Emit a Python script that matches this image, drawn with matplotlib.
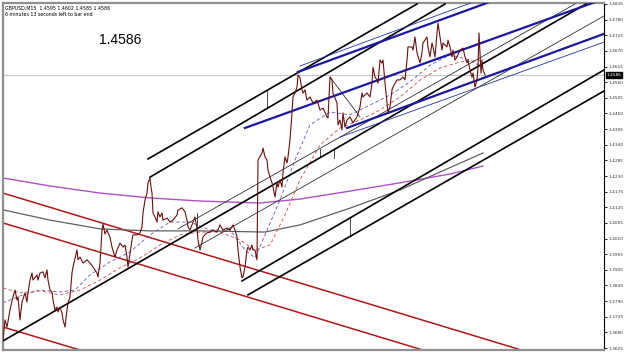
import matplotlib
matplotlib.use("Agg")
import matplotlib.pyplot as plt

# Precio GBPUSD M15 (barra, precio)
bars = [3, 5, 7, 10, 13, 15, 17, 18, 20, 22, 25, 27, 28, 30, 32, 33, 37, 38, 40, 43,
        45, 47, 48, 50, 52, 53, 55, 57, 58, 60, 62, 63, 65, 67, 68, 70, 72, 73, 77, 78,
        80, 83, 87, 90, 93, 97, 98, 100, 102, 103, 105, 107, 110, 112, 115, 117, 120, 123, 125, 127,
        128, 132, 133, 137, 140, 142, 143, 145, 147, 148, 150, 151, 152, 153, 155, 157, 158, 160, 162, 163,
        167, 170, 173, 177, 178, 182, 185, 187, 188, 190, 193, 195, 197, 198, 200, 202, 203, 207, 210, 213,
        217, 220, 223, 227, 230, 233, 235, 237, 238, 240, 242, 243, 245, 247, 248, 250, 252, 253, 255, 257,
        258, 262, 263, 265, 267, 268, 270, 272, 273, 275, 277, 278, 280, 282, 283, 285, 287, 288, 290, 292,
        293, 295, 297, 298, 300, 302, 303, 305, 307, 310, 313, 317, 320, 323, 327, 328, 330, 332, 333, 337,
        338, 340, 342, 343, 345, 347, 350, 353, 357, 360, 362, 363, 367, 370, 372, 373, 375, 377, 378, 380,
        382, 383, 385, 387, 388, 390, 392, 393, 397, 400, 403, 405, 407, 408, 412, 413, 415, 417, 420, 422,
        423, 427, 428, 430, 432, 433, 435, 437, 438, 440, 442, 443, 447, 448, 450, 452, 453, 455, 457, 460,
        463, 465, 467, 468, 470, 472, 473, 475, 477, 478, 479, 481, 482, 483, 485]
precio = [1.3653, 1.3724, 1.3699, 1.3759, 1.3805, 1.3829, 1.3794, 1.3805, 1.3724, 1.3787,
          1.3819, 1.3787, 1.3819, 1.3864, 1.3889, 1.3864, 1.3882, 1.3864, 1.3889, 1.3893,
          1.3872, 1.3900, 1.3864, 1.3829, 1.3822, 1.3794, 1.3759, 1.3769, 1.3752, 1.3769,
          1.3748, 1.3724, 1.3699, 1.3759, 1.3783, 1.3805, 1.3889, 1.3910, 1.3970, 1.3935,
          1.3945, 1.3924, 1.3935, 1.3924, 1.3910, 1.3889, 1.3875, 1.3924, 1.4040, 1.4061,
          1.4026, 1.4040, 1.4015, 1.3980, 1.3945, 1.3970, 1.3994, 1.3980, 1.3987, 1.3945,
          1.3910, 1.4005, 1.4023, 1.4023, 1.4030, 1.4051, 1.4100, 1.4146, 1.4170, 1.4206,
          1.4223, 1.4191, 1.4170, 1.4100, 1.4086, 1.4068, 1.4104, 1.4086, 1.4100, 1.4075,
          1.4082, 1.4068, 1.4075, 1.4093, 1.4110, 1.4118, 1.4104, 1.4075, 1.4051, 1.4040,
          1.4068, 1.4086, 1.4047, 1.4005, 1.3970, 1.3998, 1.4016, 1.4030, 1.4033, 1.4040,
          1.4033, 1.4058, 1.4040, 1.4047, 1.4040, 1.4058, 1.4040, 1.4016, 1.3970, 1.3910,
          1.3872, 1.3875, 1.3910, 1.3970, 1.3980, 1.3970, 1.3987, 1.3970, 1.3970, 1.3935,
          1.4286, 1.4311, 1.4328, 1.4297, 1.4286, 1.4251, 1.4227, 1.4206, 1.4191, 1.4156,
          1.4206, 1.4191, 1.4216, 1.4191, 1.4241, 1.4297, 1.4276, 1.4297, 1.4357, 1.4452,
          1.4508, 1.4522, 1.4543, 1.4585, 1.4575, 1.4533, 1.4522, 1.4533, 1.4497, 1.4508,
          1.4487, 1.4497, 1.4462, 1.4469, 1.4438, 1.4434, 1.4578, 1.4568, 1.4522, 1.4487,
          1.4410, 1.4427, 1.4392, 1.4452, 1.4402, 1.4427, 1.4438, 1.4417, 1.4438, 1.4473,
          1.4522, 1.4508, 1.4522, 1.4508, 1.4557, 1.4613, 1.4578, 1.4568, 1.4557, 1.4638,
          1.4627, 1.4638, 1.4557, 1.4487, 1.4452, 1.4473, 1.4533, 1.4543, 1.4568, 1.4568,
          1.4578, 1.4568, 1.4638, 1.4684, 1.4684, 1.4673, 1.4719, 1.4663, 1.4628, 1.4663,
          1.4698, 1.4719, 1.4684, 1.4649, 1.4698, 1.4684, 1.4649, 1.4733, 1.4768, 1.4719,
          1.4673, 1.4698, 1.4684, 1.4708, 1.4684, 1.4649, 1.4673, 1.4638, 1.4649, 1.4673,
          1.4680, 1.4649, 1.4628, 1.4638, 1.4603, 1.4578, 1.4592, 1.4543, 1.4568, 1.4614,
          1.4733, 1.4592, 1.4638, 1.4603, 1.4586]

# Medias moviles
ma_purpura_x = [3, 50, 100, 150, 200, 260, 300, 350, 400, 450, 483]
ma_purpura = [1.4223, 1.4195, 1.4170, 1.4153, 1.4142, 1.4135, 1.4149, 1.4177, 1.4206, 1.4237, 1.4265]
ma_gris_x = [3, 50, 100, 150, 200, 265, 300, 350, 400, 440, 483]
ma_gris = [1.4111, 1.4075, 1.4044, 1.4037, 1.4037, 1.4033, 1.4058, 1.4117, 1.4181, 1.4244, 1.4311]
ma_rapida_x = [3, 20, 40, 60, 75, 90, 110, 130, 150, 170, 190, 210, 230, 245, 255, 265, 280, 295,
               310, 330, 350, 370, 390, 410, 430, 450, 470, 483]
ma_rapida = [1.3784, 1.3808, 1.3829, 1.3822, 1.3829, 1.3882, 1.3928, 1.3963, 1.4023, 1.4068,
             1.4068, 1.4040, 1.4040, 1.3970, 1.3942, 1.4023, 1.4146, 1.4286, 1.4410, 1.4455,
             1.4445, 1.4480, 1.4515, 1.4561, 1.4620, 1.4656, 1.4638, 1.4610]
ma_lenta_x = [3, 20, 40, 60, 80, 100, 120, 140, 160, 180, 200, 220, 240, 255, 270, 285, 300,
              320, 340, 360, 380, 400, 420, 440, 460, 483]
ma_lenta = [1.3836, 1.3819, 1.3826, 1.3812, 1.3829, 1.3864, 1.3907, 1.3942, 1.3987, 1.4023,
            1.4033, 1.4033, 1.4005, 1.3970, 1.3987, 1.4093, 1.4216, 1.4339, 1.4399, 1.4427,
            1.4462, 1.4508, 1.4567, 1.4610, 1.4631, 1.4638]

# Lineas de tendencia: (x0, p0, x1, p1)
lineas_negras = [(148, 1.4290, 417, 1.4835), (150, 1.4226, 445, 1.4835),
                 (3, 1.3650, 586, 1.4835),
                 (242, 1.3861, 604, 1.4603), (248, 1.3812, 604, 1.4529)]
lineas_finas = [(178, 1.4044, 575, 1.4835), (195, 1.3977, 604, 1.4793),
                (330, 1.4578, 360, 1.4438)]
marcas = [(267, 1.4533, 1.4469), (197, 1.4100, 1.4047), (320, 1.4325, 1.4297),
          (334, 1.4329, 1.4293), (350, 1.4082, 1.4023)]
lineas_rojas = [(3, 1.4170, 604, 1.3530), (3, 1.4065, 604, 1.3425), (3, 1.3699, 120, 1.3576)]
lineas_azules = [(298, 1.4596, 495, 1.4849), (245, 1.4399, 604, 1.4853), (347, 1.4399, 604, 1.4730)]
lineas_azules_finas = [(300, 1.4617, 495, 1.4870), (340, 1.4367, 604, 1.4701)]

precio_actual = 1.4586
ticks = [1.4835, 1.4780, 1.4725, 1.4670, 1.4615, 1.4560, 1.4505, 1.4450, 1.4395, 1.4340,
         1.4285, 1.4230, 1.4175, 1.4120, 1.4065, 1.4010, 1.3955, 1.3900, 1.3845, 1.3790,
         1.3735, 1.3680, 1.3625]

fig = plt.figure(figsize=(6.25, 3.53), dpi=100)
ax = fig.add_axes([3 / 625, 3 / 353, 601 / 625, 347 / 353])
ax.set_xlim(3, 604)
ax.set_ylim(1.36181, 1.48385)

ax.axhline(precio_actual, color="#c8c8c8", lw=0.8, zorder=1)

for (x0, p0, x1, p1) in lineas_rojas:
    ax.plot([x0, x1], [p0, p1], color="#b01818", lw=1.1, zorder=2)

ax.plot(ma_purpura_x, ma_purpura, color="#b050c8", lw=1.0, zorder=2)
ax.plot(ma_gris_x, ma_gris, color="#606060", lw=0.9, zorder=2)
ax.plot(ma_rapida_x, ma_rapida, color="#6a50b0", lw=0.6, ls=(0, (4, 3)), zorder=2)
ax.plot(ma_lenta_x, ma_lenta, color="#d04848", lw=0.6, ls=(0, (4, 3)), zorder=2)

for (x0, p0, x1, p1) in lineas_finas:
    ax.plot([x0, x1], [p0, p1], color="#303030", lw=0.6, zorder=3)
for (x, p0, p1) in marcas:
    ax.plot([x, x], [p0, p1], color="#303030", lw=0.6, zorder=3)
for (x0, p0, x1, p1) in lineas_negras:
    ax.plot([x0, x1], [p0, p1], color="black", lw=1.2, zorder=3)
for (x0, p0, x1, p1) in lineas_azules_finas:
    ax.plot([x0, x1], [p0, p1], color="#2830a8", lw=0.6, zorder=3)
for (x0, p0, x1, p1) in lineas_azules:
    ax.plot([x0, x1], [p0, p1], color="#1818a0", lw=1.6, zorder=3)

ax.plot(bars, precio, color="#6a1010", lw=0.8, zorder=4)

# Escala de precios a la derecha
ax.yaxis.tick_right()
ax.set_yticks(ticks)
ax.set_yticklabels([f"{t:.4f}" for t in ticks], fontsize=3.1, color="#303030")
ax.tick_params(axis="y", length=2, width=0.6, pad=1)
ax.set_xticks([])
for lado in ["left", "top", "bottom"]:
    ax.spines[lado].set_color("#909090")
    ax.spines[lado].set_linewidth(1.6)
ax.spines["right"].set_color("black")
ax.spines["right"].set_linewidth(0.8)

ax.text(1.004, precio_actual, "1.4586", transform=ax.get_yaxis_transform(),
        fontsize=3.1, color="white", va="center", ha="left",
        bbox=dict(boxstyle="square,pad=0.2", fc="black", ec="black"))

ax.text(0.004, 0.992, "GBPUSD,M15  1.4595 1.4602 1.4585 1.4586", transform=ax.transAxes,
        fontsize=3.4, va="top", ha="left")
ax.text(0.004, 0.975, "6 minutes 13 seconds left to bar end", transform=ax.transAxes,
        fontsize=3.4, va="top", ha="left")
ax.text(0.195, 0.893, "1.4586", transform=ax.transAxes, fontsize=10,
        family="Liberation Sans", va="center", ha="center")

plt.savefig("out.png", dpi=100)
